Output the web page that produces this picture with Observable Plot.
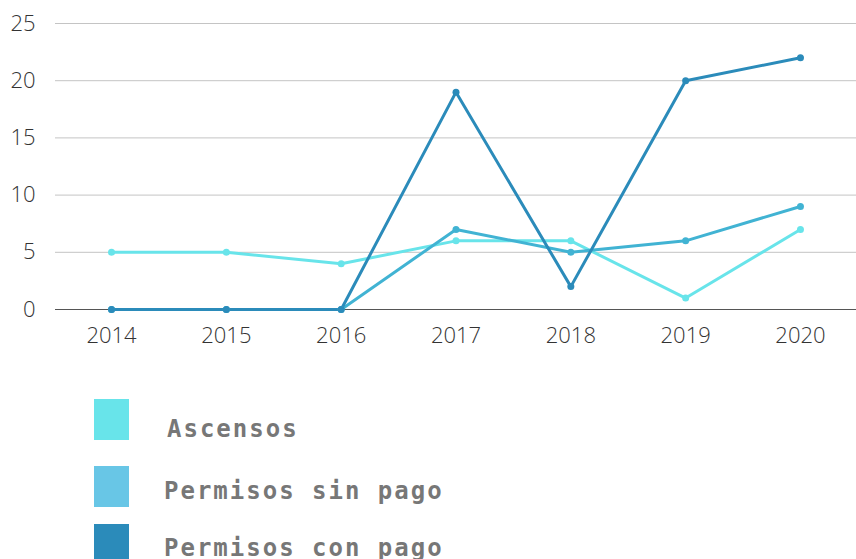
<!DOCTYPE html>
<html>
<head>
<meta charset="utf-8">
<script src="https://cdn.jsdelivr.net/npm/d3@7"></script>
<script src="https://cdn.jsdelivr.net/npm/@observablehq/plot@0.6"></script>
<style>
  body { margin: 0; background: #fff; width: 856px; height: 559px; overflow: hidden; position: relative; }
  #chart svg { display: block; }
  .legend { position: absolute; left: 0; top: 0; }
  .sw { position: absolute; width: 35px; height: 41px; }
  .lab { position: absolute; font-family: "DejaVu Sans Mono", "Liberation Mono", monospace; font-weight: bold; font-size: 24px; line-height: 1; letter-spacing: 2px; color: #777; white-space: nowrap; }
</style>
</head>
<body>
<div id="chart"></div>
<div class="legend" id="legend"></div>
<script>
const years = ["2014", "2015", "2016", "2017", "2018", "2019", "2020"];
const seriesNames = ["Ascensos", "Permisos sin pago", "Permisos con pago"];
const ascensos = [5, 5, 4, 6, 6, 1, 7];
const permisosSinPago = [0, 0, 0, 7, 5, 6, 9];
const permisosConPago = [0, 0, 0, 19, 2, 20, 22];
const lineColors = ["#68e4ea", "#41b3d3", "#2b8bba"];
const legendColors = ["#68e4ea", "#68c6e6", "#2b8bba"];
const yTicks = [0, 5, 10, 15, 20, 25];

const seriesValues = [ascensos, permisosSinPago, permisosConPago];
const data = seriesNames.flatMap((s, i) => years.map((y, j) => ({series: s, year: y, value: seriesValues[i][j]})));

const chart = Plot.plot({
  width: 856,
  height: 360,
  marginTop: 23,
  marginBottom: 51,
  marginLeft: 55,
  marginRight: 0,
  style: {fontFamily: "Open Sans", fontSize: "22px", color: "#333", fontWeight: 300},
  x: {type: "point", domain: years, padding: 0.488, round: false, label: null},
  y: {domain: [0, 25], label: null},
  color: {domain: seriesNames, range: lineColors},
  marks: [
    Plot.ruleY(yTicks.filter(d => d > 0), {stroke: "#c4c4c4", strokeWidth: 1}),
    Plot.ruleY([0], {stroke: "#555", strokeWidth: 1}),
    Plot.axisY({ticks: yTicks, tickSize: 0, tickPadding: 20, fontSize: 22, fill: "#333", label: null}),
    Plot.axisX({tickSize: 0, tickPadding: 18, fontSize: 22, fill: "#333", label: null}),
    Plot.line(data, {x: "year", y: "value", z: "series", stroke: "series", strokeWidth: 3}),
    Plot.dot(data, {x: "year", y: "value", fill: "series", r: 3.5})
  ]
});
document.getElementById("chart").appendChild(chart);

const legendPos = [{sq: 399, tx: 167, ty: 417}, {sq: 466, tx: 164, ty: 479}, {sq: 524, tx: 164, ty: 536}];
const legend = document.getElementById("legend");
seriesNames.forEach((name, i) => {
  const sw = document.createElement("div");
  sw.className = "sw";
  sw.style.left = "94px";
  sw.style.top = legendPos[i].sq + "px";
  sw.style.background = legendColors[i];
  legend.appendChild(sw);
  const lab = document.createElement("div");
  lab.className = "lab";
  lab.style.left = legendPos[i].tx + "px";
  lab.style.top = legendPos[i].ty + "px";
  lab.textContent = name;
  legend.appendChild(lab);
});
</script>
</body>
</html>
